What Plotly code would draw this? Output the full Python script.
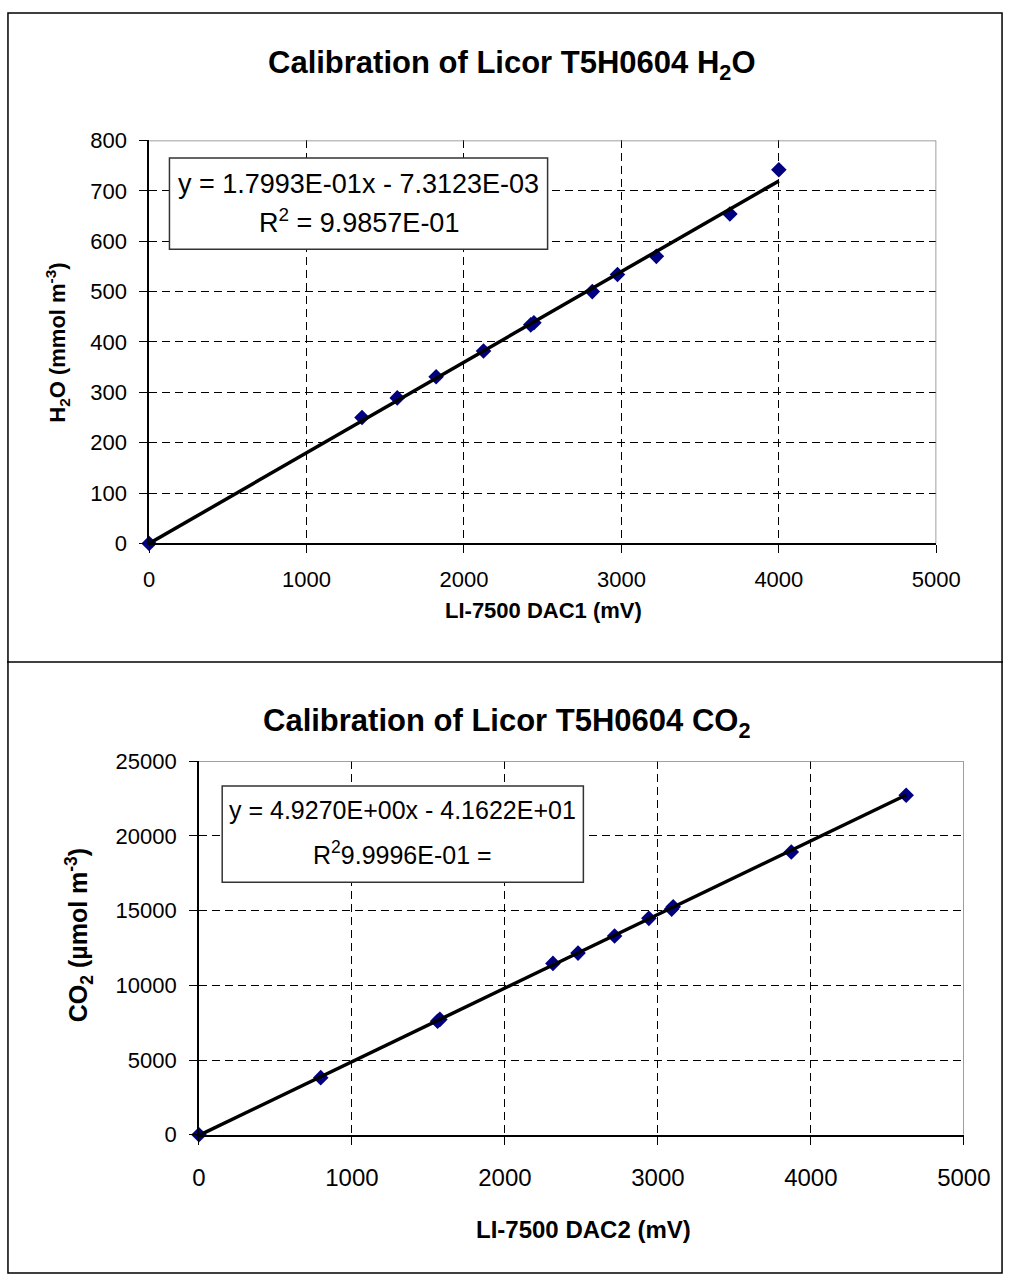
import plotly.graph_objects as go

# ---------------- data ----------------
h2o_mv = [0, 1352, 1576, 1823, 2124, 2424, 2444, 2815, 2975, 3222, 3689, 4000]
h2o_conc = [0, 250, 289, 331, 382, 434, 438, 500, 534, 570, 654, 742]
h2o_slope, h2o_icpt = 1.7993e-01, -7.3123e-03

co2_mv = [0, 796, 1560, 1575, 2314, 2478, 2717, 2941, 3090, 3100, 3872, 4623]
co2_conc = [0, 3820, 7600, 7720, 11466, 12155, 13297, 14483, 15100, 15250, 18922, 22716]
co2_slope, co2_icpt = 4.9270e+00, -4.1622e+01

x_ticks = [0, 1000, 2000, 3000, 4000, 5000]
h2o_ticks = [0, 100, 200, 300, 400, 500, 600, 700, 800]
co2_ticks = [0, 5000, 10000, 15000, 20000, 25000]

W, H = 1030, 1287
FONT = "Liberation Sans, Arial, sans-serif"
NAVY = "#000080"


def px(x):
    return x / W


def py(y):
    return 1 - y / H


fig = go.Figure()

# H2O points + trend
fig.add_trace(go.Scatter(x=h2o_mv, y=h2o_conc, mode="markers",
                         marker=dict(symbol="diamond", size=12, color=NAVY),
                         cliponaxis=False, xaxis="x", yaxis="y", showlegend=False))
tx = [0, max(h2o_mv)]
fig.add_trace(go.Scatter(x=tx, y=[h2o_slope * v + h2o_icpt for v in tx], mode="lines",
                         line=dict(color="black", width=3.5),
                         xaxis="x", yaxis="y", showlegend=False))

# CO2 points + trend
fig.add_trace(go.Scatter(x=co2_mv, y=co2_conc, mode="markers",
                         marker=dict(symbol="diamond", size=12, color=NAVY),
                         cliponaxis=False, xaxis="x2", yaxis="y2", showlegend=False))
tx2 = [0, max(co2_mv)]
fig.add_trace(go.Scatter(x=tx2, y=[co2_slope * v + co2_icpt for v in tx2], mode="lines",
                         line=dict(color="black", width=3.5),
                         xaxis="x2", yaxis="y2", showlegend=False))


def axis_style(size, standoff):
    return dict(showgrid=True, gridcolor="black", gridwidth=1, griddash="8px,5px",
                showline=True, linecolor="black", linewidth=1.5, zeroline=False,
                ticks="outside", tickcolor="black", ticklen=8, tickwidth=1.2,
                ticklabelstandoff=standoff, tickformat="d",
                tickfont=dict(family=FONT, size=size, color="black"))


fig.update_layout(
    width=W, height=H, margin=dict(l=0, r=0, t=0, b=0),
    paper_bgcolor="white", plot_bgcolor="white",
    xaxis=dict(domain=[px(147), px(961)], range=[0, 5000], tickvals=x_ticks,
               anchor="y", **axis_style(22, 7)),
    yaxis=dict(domain=[py(542), py(131)], range=[0, 800], tickvals=h2o_ticks,
               anchor="x", **axis_style(22, 8)),
    xaxis2=dict(domain=[px(198.5), px(989.5)], range=[0, 5000], tickvals=x_ticks,
                anchor="y2", **axis_style(24, 13)),
    yaxis2=dict(domain=[py(1145), py(764)], range=[0, 25000], tickvals=co2_ticks,
                anchor="x2", **axis_style(22, 8)),
)

shapes = []
# gray top/right plot borders
for xr, yr, x0, x1, y0, y1 in [("x", "y", 0, 5000, 800, 800), ("x", "y", 5000, 5000, 0, 800),
                               ("x2", "y2", 0, 5000, 25000, 25000), ("x2", "y2", 5000, 5000, 0, 25000)]:
    shapes.append(dict(type="line", xref=xr, yref=yr, x0=x0, x1=x1, y0=y0, y1=y1,
                       line=dict(color="#808080", width=1.5), layer="above"))
# equation boxes
shapes.append(dict(type="rect", xref="x", yref="y", x0=129, x1=2531, y0=584, y1=765,
                   fillcolor="white", line=dict(color="#333333", width=1.5), layer="above"))
shapes.append(dict(type="rect", xref="x2", yref="y2", x0=152, x1=2513, y0=16900, y1=23330,
                   fillcolor="white", line=dict(color="#333333", width=1.5), layer="above"))
# outer frame and divider
shapes.append(dict(type="rect", xref="paper", yref="paper", x0=px(1), x1=px(1029), y0=py(1286), y1=py(1),
                   line=dict(color="black", width=1.5), layer="above"))
shapes.append(dict(type="line", xref="paper", yref="paper", x0=0, x1=1, y0=py(663), y1=py(663),
                   line=dict(color="black", width=1.5), layer="above"))
fig.update_layout(shapes=shapes)


def label(text, x, y, size, xref="paper", yref="paper", angle=0):
    return dict(text=text, x=x, y=y, xref=xref, yref=yref, showarrow=False,
                xanchor="center", yanchor="middle", textangle=angle,
                font=dict(family=FONT, size=size, color="black"))


ann = [
    label("<b>Calibration of Licor T5H0604 H<sub>2</sub>O</b>", px(522), py(54), 31),
    label("<b>Calibration of Licor T5H0604 CO<sub>2</sub></b>", px(517), py(725), 31),
    label("<b>LI-7500 DAC1 (mV)</b>", px(555), py(610), 22),
    label("<b>LI-7500 DAC2 (mV)</b>", px(596), py(1242), 24),
    label("<b>H<sub>2</sub>O (mmol m<sup>-3</sup>)</b>", px(52), py(337), 22, angle=-90),
    label("<b>CO<sub>2</sub> (µmol m<sup>-3</sup>)</b>", px(74), py(942), 25, angle=-90),
    label("y = 1.7993E-01x - 7.3123E-03", 1330, 714, 27, "x", "y"),
    label("R<sup>2</sup> = 9.9857E-01", 1330, 640, 27, "x", "y"),
    label("y = 4.9270E+00x - 4.1622E+01", 1332, 21700, 25, "x2", "y2"),
    label("R<sup>2</sup>9.9996E-01 =", 1332, 18858, 25, "x2", "y2"),
]
fig.update_layout(annotations=ann)

fig.write_html("out.html", config={"displayModeBar": False},
               post_script="document.body.style.margin='0';document.body.style.overflow='hidden';"
                           "document.documentElement.style.overflow='hidden';")
